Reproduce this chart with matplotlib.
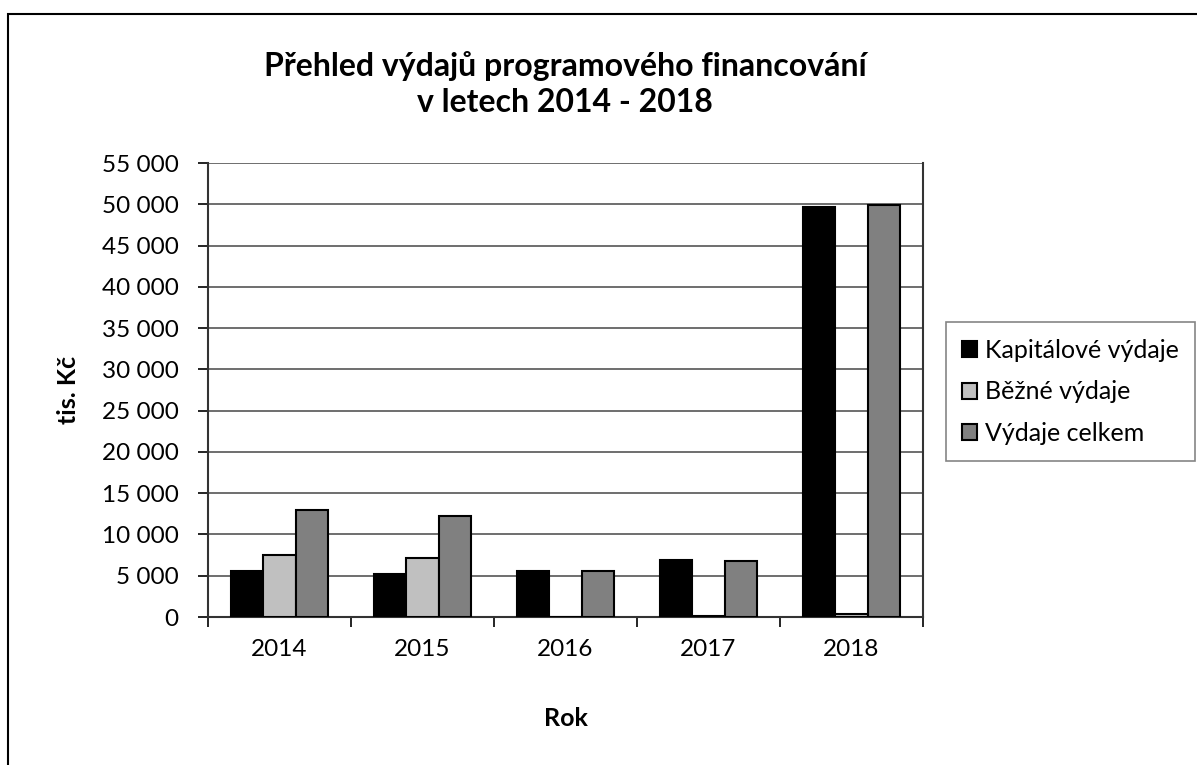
import matplotlib.pyplot as plt
import numpy as np
from matplotlib.patches import Rectangle
from matplotlib.ticker import FuncFormatter

plt.rcParams['font.family'] = ['Lato', 'DejaVu Sans']

years = ['2014', '2015', '2016', '2017', '2018']
kapitalove = [5550, 5150, 5580, 6870, 49700]
bezne = [7550, 7110, 0, 100, 350]
celkem = [12930, 12200, 5540, 6800, 49950]

series = [
    ('Kapitálové výdaje', kapitalove, '#000000'),
    ('Běžné výdaje', bezne, '#c0c0c0'),
    ('Výdaje celkem', celkem, '#808080'),
]

fig = plt.figure(figsize=(11.97, 7.65), dpi=100)
ax = fig.add_axes([208 / 1197, (765 - 617) / 765, (923 - 208) / 1197, (617 - 163) / 765])

# outer chart border (only top and left edges visible)
fig.patches.append(Rectangle((8 / 1197, -0.1), 1.2, (765 - 14) / 765 + 0.1,
                             transform=fig.transFigure, fill=False,
                             edgecolor='black', linewidth=1.5))

x = np.arange(len(years))
width = 0.225
for i, (name, vals, color) in enumerate(series):
    ax.bar(x + (i - 1) * width, vals, width, color=color, edgecolor='black',
           linewidth=1.5, label=name, zorder=3)

ax.set_xlim(-0.5, len(years) - 0.5)
ax.set_ylim(0, 55000)
ax.set_yticks(np.arange(0, 55001, 5000))
ax.yaxis.set_major_formatter(FuncFormatter(lambda v, p: f'{int(v):,}'.replace(',', ' ')))
ax.set_xticks(x)
ax.set_xticklabels(years)
ax.set_xticks(np.arange(-0.5, len(years)), minor=True)
ax.tick_params(axis='x', which='major', length=0, pad=16, labelsize=17.5)
ax.tick_params(axis='x', which='minor', length=7, width=1.2, direction='out')
ax.tick_params(axis='y', length=7, width=1.2, direction='out', pad=14, labelsize=17.5)

ax.grid(axis='y', color='#555555', linewidth=1.2, zorder=0)
ax.spines['top'].set_visible(False)
for side in ['left', 'right', 'bottom']:
    ax.spines[side].set_linewidth(1.5)
    ax.spines[side].set_color('#333333')

ax.set_xlabel('Rok', fontsize=18, fontweight='bold', labelpad=34)
ax.set_ylabel('tis. Kč', fontsize=18, fontweight='bold', labelpad=16)

fig.text(565 / 1197, 1 - 84 / 765, 'Přehled výdajů programového financování\nv letech 2014 - 2018',
         ha='center', va='center', fontsize=23, fontweight='bold', linespacing=1.3)

leg = ax.legend(loc='center left', bbox_to_anchor=(946 / 1197, 1 - 392 / 765),
                bbox_transform=fig.transFigure, fontsize=18, frameon=True,
                fancybox=False, edgecolor='#666666', handlelength=0.6,
                handleheight=0.6, handletextpad=0.3, labelspacing=0.75,
                borderpad=0.65, borderaxespad=0)
leg.get_frame().set_linewidth(1.2)

fig.savefig('out.png', dpi=100)
